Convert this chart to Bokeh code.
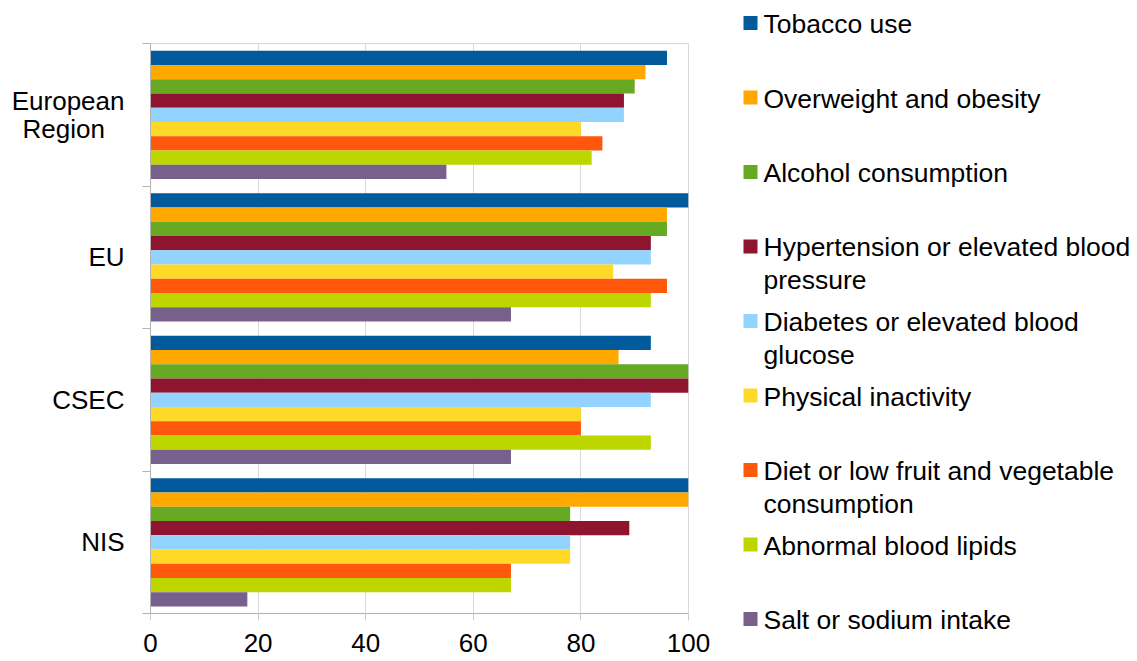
from bokeh.plotting import figure
from bokeh.layouts import row
from bokeh.models import Range1d, FixedTicker, ColumnDataSource
from bokeh.core.properties import value
from bokeh.embed import file_html
from bokeh.resources import INLINE

# ---------------- data ----------------
groups = ["European Region", "EU", "CSEC", "NIS"]
group_labels = ["European\nRegion\u00a0\u00a0\u2009", "EU", "CSEC", "NIS"]

series = [
    "Tobacco use",
    "Overweight and obesity",
    "Alcohol consumption",
    "Hypertension or elevated blood pressure",
    "Diabetes or elevated blood glucose",
    "Physical inactivity",
    "Diet or low fruit and vegetable consumption",
    "Abnormal blood lipids",
    "Salt or sodium intake",
]
legend_labels = [
    "Tobacco use",
    "Overweight and obesity",
    "Alcohol consumption",
    "Hypertension or elevated blood\npressure",
    "Diabetes or elevated blood\nglucose",
    "Physical inactivity",
    "Diet or low fruit and vegetable\nconsumption",
    "Abnormal blood lipids",
    "Salt or sodium intake",
]
colors = ["#005a9c", "#ffa800", "#68a924", "#8e1430", "#93d3ff",
          "#ffd928", "#ff580d", "#bdd600", "#77618c"]

tobacco = [96, 100, 93, 100]
overweight = [92, 96, 87, 100]
alcohol = [90, 96, 100, 78]
hypertension = [88, 93, 100, 89]
diabetes = [88, 93, 93, 78]
inactivity = [80, 86, 80, 78]
diet = [84, 96, 80, 67]
lipids = [82, 93, 93, 67]
salt = [55, 67, 67, 18]
values = [tobacco, overweight, alcohol, hypertension, diabetes,
          inactivity, diet, lipids, salt]

x_ticks = [0, 20, 40, 60, 80, 100]

FONT = "Liberation Sans"
H = 660

# ---------------- main chart ----------------
n_groups = len(groups)
n_series = len(series)
bar_h = 0.9 / n_series

p = figure(width=730, height=H,
           x_range=Range1d(0, 100), y_range=Range1d(0, n_groups),
           output_backend="svg", toolbar_location=None,
           min_border_left=150, min_border_right=42,
           min_border_top=43, min_border_bottom=47)
p.frame_align = False

centers = [n_groups - 1 - g + 0.5 for g in range(n_groups)]
for i, (name, vals, col) in enumerate(zip(series, values, colors)):
    off = ((n_series - 1) / 2 - i) * bar_h
    src = ColumnDataSource(dict(y=[c + off for c in centers], right=vals))
    p.hbar(y="y", left=0, right="right", height=bar_h, source=src,
           fill_color=col, line_color=None)

p.xgrid.grid_line_color = "#d9d9d9"
p.ygrid.grid_line_color = None
p.outline_line_color = "#d9d9d9"
p.background_fill_color = "white"
p.border_fill_color = "white"

xa = p.xaxis[0]
xa.ticker = FixedTicker(ticks=x_ticks)
xa.axis_line_color = "#b3b3b3"
xa.major_tick_line_color = "#cccccc"
xa.major_tick_out = 7
xa.major_tick_in = 0
xa.minor_tick_line_color = None
xa.major_label_text_font = FONT
xa.major_label_text_font_size = "26px"
xa.major_label_text_color = "black"
xa.major_label_standoff = 13

ya = p.yaxis[0]
ya.ticker = FixedTicker(ticks=centers, minor_ticks=list(range(n_groups + 1)))
ya.major_label_overrides = {c: lab for c, lab in zip(centers, group_labels)}
ya.axis_line_color = "#b3b3b3"
ya.major_tick_line_color = None
ya.major_tick_out = 0
ya.major_tick_in = 0
ya.minor_tick_line_color = "#b3b3b3"
ya.minor_tick_out = 8
ya.minor_tick_in = 0
ya.major_label_text_font = FONT
ya.major_label_text_font_size = "26px"
ya.major_label_text_color = "black"
ya.major_label_text_line_height = 0.95
ya.major_label_standoff = 18

# ---------------- legend ----------------
LW = 1136 - 730
lf = figure(width=LW, height=H, x_range=Range1d(0, LW), y_range=Range1d(H, 0),
            output_backend="svg", toolbar_location=None, min_border=0,
            x_axis_location=None, y_axis_location=None)
lf.frame_align = False
lf.grid.visible = False
lf.outline_line_color = None
lf.border_fill_color = "white"

step = 74.5
first = 22.5
sq_y = [first + i * step for i in range(n_series)]
line_sp = 32
txt_y = [y + 1 + (lab.count("\n")) * line_sp / 2 for y, lab in zip(sq_y, legend_labels)]

lf.rect(x=20, y=sq_y, width=14, height=14, fill_color=colors, line_color=None)
lf.text(x=33, y=txt_y, text=legend_labels, text_baseline="middle", text_align="left",
        text_font=value(FONT), text_font_size="26.5px", text_color="black",
        text_line_height=1.1)

layout = row(p, lf)
open("out.html", "w").write(file_html(layout, INLINE))
